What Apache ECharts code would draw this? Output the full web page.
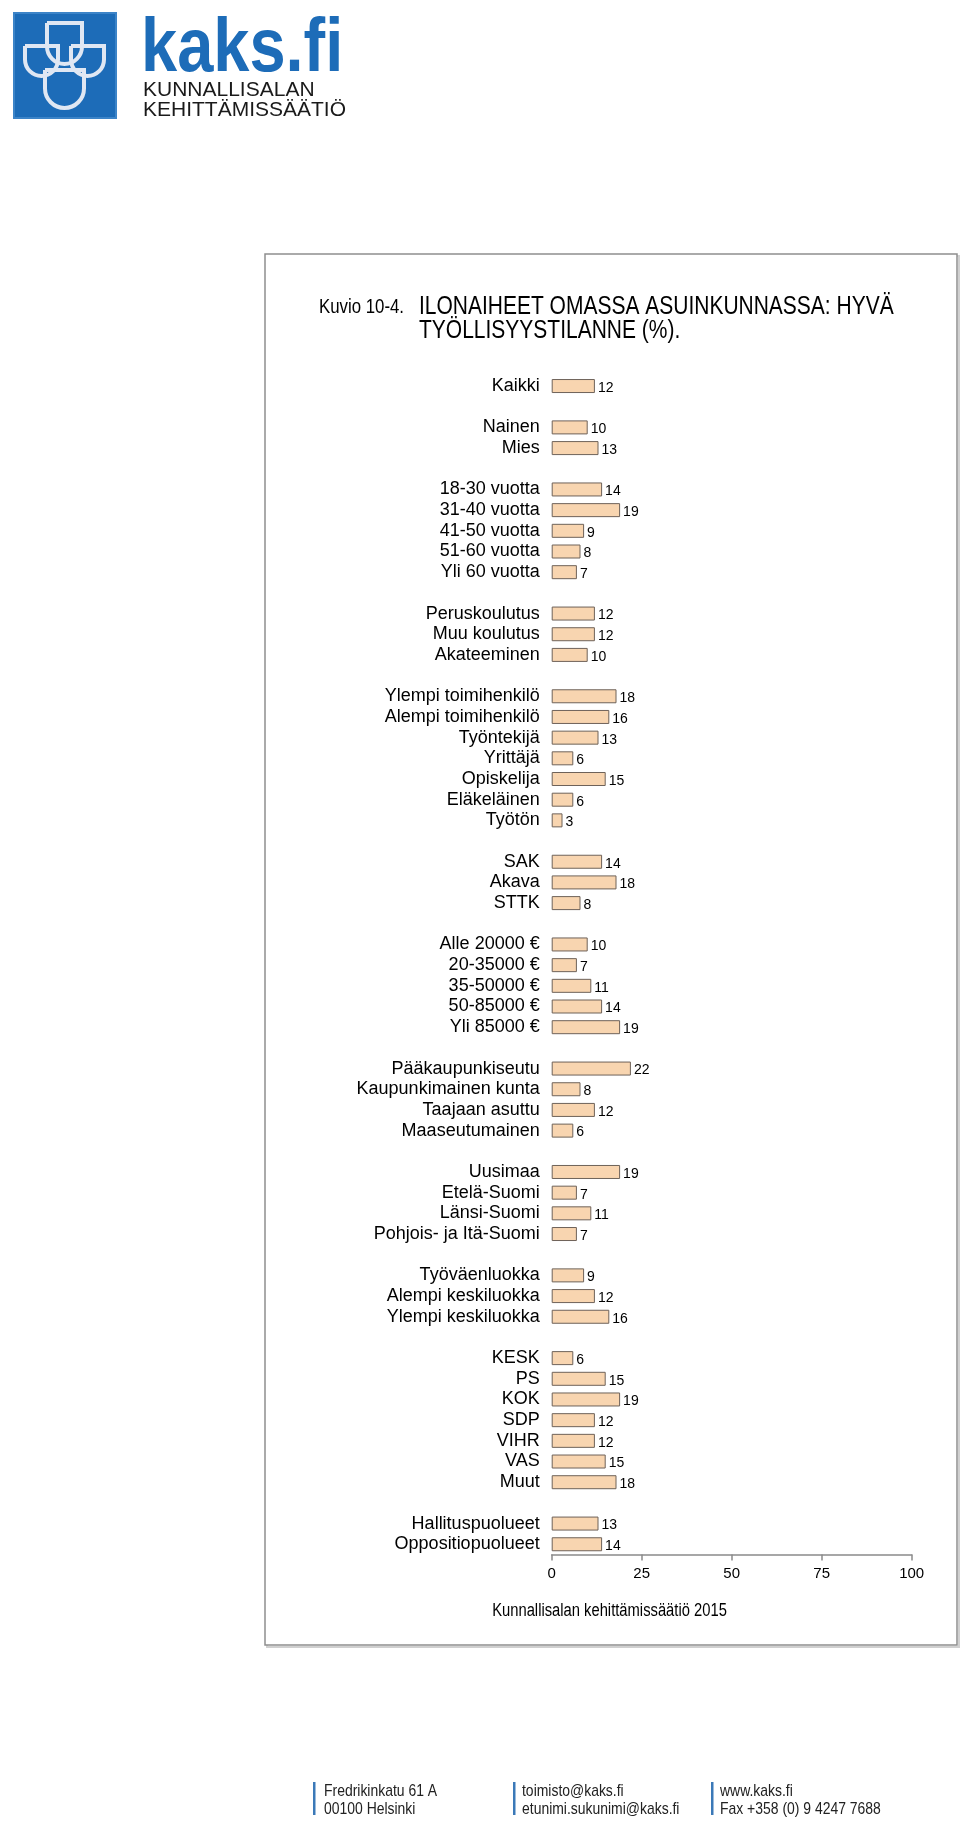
<!DOCTYPE html>
<html><head><meta charset="utf-8">
<script src="https://cdn.jsdelivr.net/npm/echarts@6/dist/echarts.min.js"></script>
<style>html,body{margin:0;padding:0;background:#fff}#c{width:960px;height:1822px}</style>
</head><body><div id="c"></div>
<script>
// ---- data ----
const catAll = ['Kaikki'];
const valAll = [12];
const catGender = ['Nainen', 'Mies'];
const valGender = [10, 13];
const catAge = ['18-30 vuotta', '31-40 vuotta', '41-50 vuotta', '51-60 vuotta', 'Yli 60 vuotta'];
const valAge = [14, 19, 9, 8, 7];
const catEdu = ['Peruskoulutus', 'Muu koulutus', 'Akateeminen'];
const valEdu = [12, 12, 10];
const catOcc = ['Ylempi toimihenkilö', 'Alempi toimihenkilö', 'Työntekijä', 'Yrittäjä', 'Opiskelija', 'Eläkeläinen', 'Työtön'];
const valOcc = [18, 16, 13, 6, 15, 6, 3];
const catUnion = ['SAK', 'Akava', 'STTK'];
const valUnion = [14, 18, 8];
const catIncome = ['Alle 20000 €', '20-35000 €', '35-50000 €', '50-85000 €', 'Yli 85000 €'];
const valIncome = [10, 7, 11, 14, 19];
const catMunic = ['Pääkaupunkiseutu', 'Kaupunkimainen kunta', 'Taajaan asuttu', 'Maaseutumainen'];
const valMunic = [22, 8, 12, 6];
const catRegion = ['Uusimaa', 'Etelä-Suomi', 'Länsi-Suomi', 'Pohjois- ja Itä-Suomi'];
const valRegion = [19, 7, 11, 7];
const catClass = ['Työväenluokka', 'Alempi keskiluokka', 'Ylempi keskiluokka'];
const valClass = [9, 12, 16];
const catParty = ['KESK', 'PS', 'KOK', 'SDP', 'VIHR', 'VAS', 'Muut'];
const valParty = [6, 15, 19, 12, 12, 15, 18];
const catGov = ['Hallituspuolueet', 'Oppositiopuolueet'];
const valGov = [13, 14];
const xTicks = [0, 25, 50, 75, 100];

// ---- build category list with blank gap rows ----
const groups = [
  [catAll, valAll], [catGender, valGender], [catAge, valAge], [catEdu, valEdu],
  [catOcc, valOcc], [catUnion, valUnion], [catIncome, valIncome], [catMunic, valMunic],
  [catRegion, valRegion], [catClass, valClass], [catParty, valParty], [catGov, valGov]
];
const categories = [];
const values = [];
groups.forEach((g, gi) => {
  g[0].forEach((c, i) => { categories.push(c); values.push(g[1][i]); });
  if (gi < groups.length - 1) { categories.push('_gap' + gi); values.push(null); }
});

const SANS = '"Liberation Sans", Arial, sans-serif';
const NX = 0.82; // emulate a narrow face

function uShape(x1, y1, x2, y2) {
  const r = (x2 - x1) / 2;
  return { type: 'rect', shape: { x: x1, y: y1, width: x2 - x1, height: y2 - y1, r: [0, 0, r, r] },
           style: { fill: null, stroke: '#dfe7f3', lineWidth: 4 } };
}
function ntext(x, y, text, size, extra) {
  return Object.assign({ type: 'text', x: x, y: y, scaleX: NX,
    style: Object.assign({ text: text, font: size + 'px ' + SANS, fill: '#000', textVerticalAlign: 'middle' }, extra || {}) });
}

const chart = echarts.init(document.getElementById('c'), null, { renderer: 'canvas' });
chart.setOption({
  animation: false,
  backgroundColor: '#ffffff',
  grid: { left: 551.7, right: 48.3, top: 375.7, height: 1178.9, containLabel: false },
  xAxis: {
    type: 'value', min: xTicks[0], max: xTicks[xTicks.length - 1], interval: xTicks[1] - xTicks[0],
    axisLine: { show: true, lineStyle: { color: '#8a8a8a', width: 1.5 } },
    axisTick: { show: true, length: 6, lineStyle: { color: '#8a8a8a', width: 1.5 } },
    splitLine: { show: false },
    axisLabel: { fontFamily: SANS, fontSize: 15, color: '#000', margin: 12 }
  },
  yAxis: {
    type: 'category', inverse: true, data: categories,
    axisLine: { show: false }, axisTick: { show: false }, splitLine: { show: false },
    axisLabel: {
      interval: 0,
      fontFamily: SANS, fontSize: 18, color: '#000', margin: 12,
      formatter: v => (v.indexOf('_gap') === 0 ? '' : v)
    }
  },
  series: [{
    type: 'bar', data: values, barWidth: 14,
    itemStyle: { color: '#f8d5b0', borderColor: '#6e6259', borderWidth: 1 },
    label: { show: true, position: 'right', distance: 3, fontFamily: SANS, fontSize: 14, color: '#000', offset: [0, 2] }
  }],
  graphic: [
    // frame shadow + frame
    { type: 'rect', z: -2, shape: { x: 267, y: 256, width: 692, height: 1391 }, style: { fill: null, stroke: '#d0d0d0', lineWidth: 2 } },
    { type: 'rect', z: -1, shape: { x: 265, y: 254, width: 692, height: 1391 }, style: { fill: '#fff', stroke: '#8e8e8e', lineWidth: 1.5 } },
    // titles
    ntext(319, 307, 'Kuvio 10-4.', 20.5),
    ntext(419, 306.5, 'ILONAIHEET OMASSA ASUINKUNNASSA: HYVÄ', 25.6),
    ntext(419, 330.5, 'TYÖLLISYYSTILANNE (%).', 25.6),
    // source
    ntext(609.5, 1611, 'Kunnallisalan kehittämissäätiö 2015', 18, { textAlign: 'center' }),
    // logo
    { type: 'rect', shape: { x: 14, y: 13, width: 102, height: 105 }, style: { fill: '#1d6cb8', stroke: '#3c84c8', lineWidth: 2 } },
    uShape(47, 23, 82, 64),
    uShape(25, 46, 58, 76),
    uShape(71, 46, 104, 76),
    uShape(45, 70, 84, 108),
    { type: 'text', x: 141, y: 12, scaleX: 0.855, style: { text: 'kaks.fi', font: 'bold 76px ' + SANS, fill: '#1d6cb8', textVerticalAlign: 'top' } },
    { type: 'text', x: 143, y: 90, style: { text: 'KUNNALLISALAN', font: '21px ' + SANS, fill: '#1a1a1a', textVerticalAlign: 'middle' } },
    { type: 'text', x: 143, y: 110, style: { text: 'KEHITTÄMISSÄÄTIÖ', font: '21px ' + SANS, fill: '#1a1a1a', textVerticalAlign: 'middle' } },
    // footer
    { type: 'rect', shape: { x: 313, y: 1782, width: 2.5, height: 33 }, style: { fill: '#3b79b8' } },
    { type: 'rect', shape: { x: 513, y: 1782, width: 2.5, height: 33 }, style: { fill: '#3b79b8' } },
    { type: 'rect', shape: { x: 711, y: 1782, width: 2.5, height: 33 }, style: { fill: '#3b79b8' } },
    ntext(324, 1791, 'Fredrikinkatu 61 A', 17, { fill: '#222' }),
    ntext(324, 1809, '00100 Helsinki', 17, { fill: '#222' }),
    ntext(522, 1791, 'toimisto@kaks.fi', 17, { fill: '#222' }),
    ntext(522, 1809, 'etunimi.sukunimi@kaks.fi', 17, { fill: '#222' }),
    ntext(720, 1791, 'www.kaks.fi', 17, { fill: '#222' }),
    ntext(720, 1809, 'Fax +358 (0) 9 4247 7688', 17, { fill: '#222' })
  ]
});
</script></body></html>
